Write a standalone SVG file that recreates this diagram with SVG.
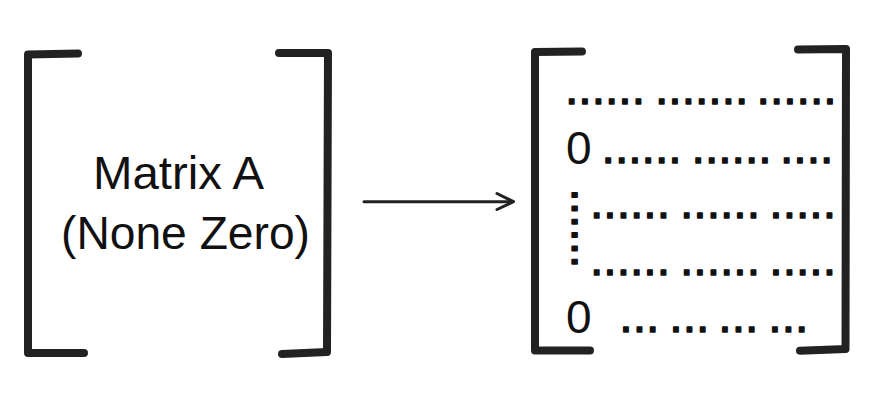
<svg xmlns="http://www.w3.org/2000/svg" width="870" height="406" viewBox="0 0 870 406">
<style>
.br{fill:none;stroke:#222;stroke-width:8;stroke-linecap:round;stroke-linejoin:round}
.lbl{font-family:"Liberation Sans",Arial,sans-serif;font-size:46px;fill:#111}
.dots{font-family:"Liberation Sans",Arial,sans-serif;font-size:48px;fill:#111;stroke:#111;stroke-width:1.4;stroke-linejoin:round}
.zero{font-family:"Liberation Sans",Arial,sans-serif;font-size:46px;fill:#111}
.conn{fill:none;stroke:#222;stroke-width:3;stroke-linecap:round;stroke-linejoin:round}
</style>
<rect width="870" height="406" fill="#fff"/>
<g id="matrixA">
<path class="br" d="M78 53.5 L28 54.5 L28 353 L84 353"/>
<path class="br" d="M279 53 L328 53 L327 352 L282 354"/>
<text class="lbl" x="93" y="188.5" textLength="171" lengthAdjust="spacingAndGlyphs">Matrix A</text>
<text class="lbl" x="61" y="248.5" textLength="249" lengthAdjust="spacingAndGlyphs">(None Zero)</text>
</g>
<g id="connectors">
<path class="conn" d="M364 201.7 L512 201.7"/>
<path class="conn" d="M497 193.5 L513.5 201.7 L497 209.5"/>
</g>
<g id="matrixB">
<path class="br" d="M582 51.5 L535 52 L535 350.5 L590 350.5"/>
<path class="br" d="M798 49.5 L846 49 L845.5 349 L800 350.7"/>
<text class="dots" y="104.2"><tspan x="565">......</tspan><tspan x="655">.......</tspan><tspan x="756.6">......</tspan></text>
<text class="zero" x="566" y="163.5">0</text>
<text class="dots" y="162.5"><tspan x="601.6">......</tspan><tspan x="691.6">......</tspan><tspan x="780">....</tspan></text>
<text class="dots" transform="translate(571.8 188.3) rotate(90)" x="0" y="0">......</text>
<text class="dots" y="217.5"><tspan x="590">......</tspan><tspan x="680">......</tspan><tspan x="769.3">.....</tspan></text>
<text class="dots" y="274.8"><tspan x="590">......</tspan><tspan x="680">......</tspan><tspan x="769.3">.....</tspan></text>
<text class="zero" x="566" y="333">0</text>
<text class="dots" y="331.8"><tspan x="619.3">...</tspan><tspan x="669.3">...</tspan><tspan x="718.3">...</tspan><tspan x="768.3">...</tspan></text>
</g>
</svg>
